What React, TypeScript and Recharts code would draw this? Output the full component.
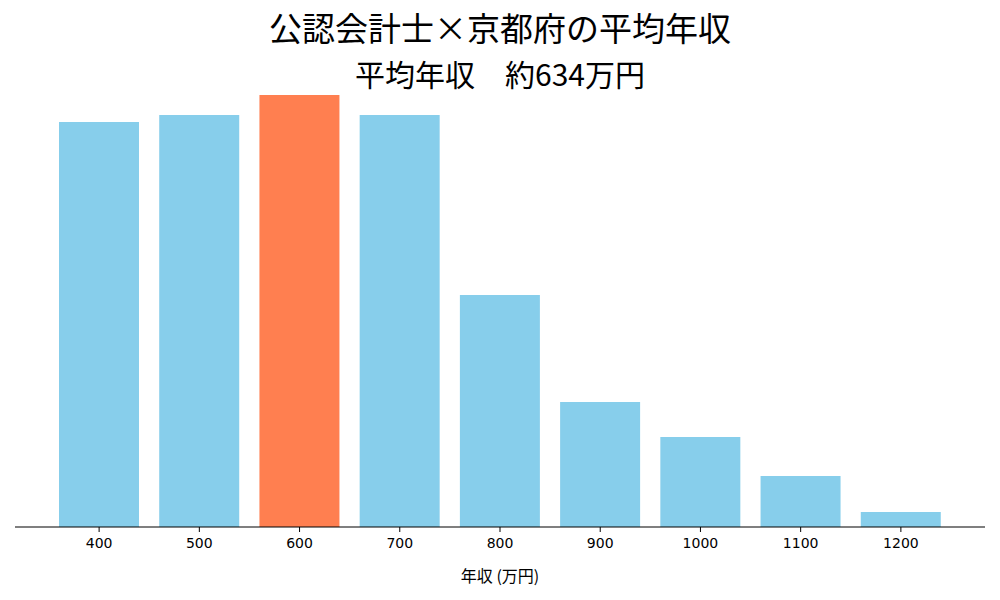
import { Bar, BarChart, Cell, XAxis, YAxis } from 'recharts';

const categories = ['400', '500', '600', '700', '800', '900', '1000', '1100', '1200'];
const values = [405, 412, 432, 412, 232, 125, 90, 51, 15];
const highlight = '600';

const title = '公認会計士×京都府の平均年収';
const subtitle = '平均年収　約634万円';
const xLabel = '年収 (万円)';

const data = categories.map((c, i) => ({ name: c, value: values[i] }));

const font = '"Noto Sans CJK JP", "Noto Sans", sans-serif';
const tickFont = '"DejaVu Sans", sans-serif';

export default function App() {
  return (
    <div
      style={{
        position: 'absolute',
        left: 0,
        top: 0,
        width: 1000,
        height: 600,
        background: '#fff',
        fontFamily: font,
        color: '#000',
      }}
    >
      <div
        style={{
          position: 'absolute',
          top: 11,
          left: 0,
          width: 1000,
          textAlign: 'center',
          fontSize: 33,
          lineHeight: '33px',
        }}
      >
        {title}
      </div>
      <div
        style={{
          position: 'absolute',
          top: 58,
          left: 0,
          width: 1000,
          textAlign: 'center',
          fontSize: 30,
          lineHeight: '30px',
        }}
      >
        {subtitle}
      </div>
      <BarChart
        width={1000}
        height={600}
        data={data}
        margin={{ top: 95, right: 15, left: 15, bottom: 25 }}
        barCategoryGap="10%"
      >
        <XAxis
          dataKey="name"
          height={48}
          padding={{ left: 34, right: 34 }}
          axisLine={{ stroke: '#000', strokeWidth: 1.2 }}
          tickLine={{ stroke: '#000' }}
          tickSize={5}
          tickMargin={6}
          fontSize={14}
          tick={{ fill: '#000', fontSize: 14, fontFamily: tickFont }}
          interval={0}
        />
        <YAxis hide domain={[0, 'dataMax']} />
        <Bar dataKey="value" barSize={80} isAnimationActive={false}>
          {data.map((d) => (
            <Cell key={d.name} fill={d.name === highlight ? '#FF7F50' : '#87CEEB'} />
          ))}
        </Bar>
      </BarChart>
      <div
        style={{
          position: 'absolute',
          top: 566,
          left: 0,
          width: 1000,
          textAlign: 'center',
          fontSize: 16,
          lineHeight: '18px',
        }}
      >
        {xLabel}
      </div>
    </div>
  );
}
